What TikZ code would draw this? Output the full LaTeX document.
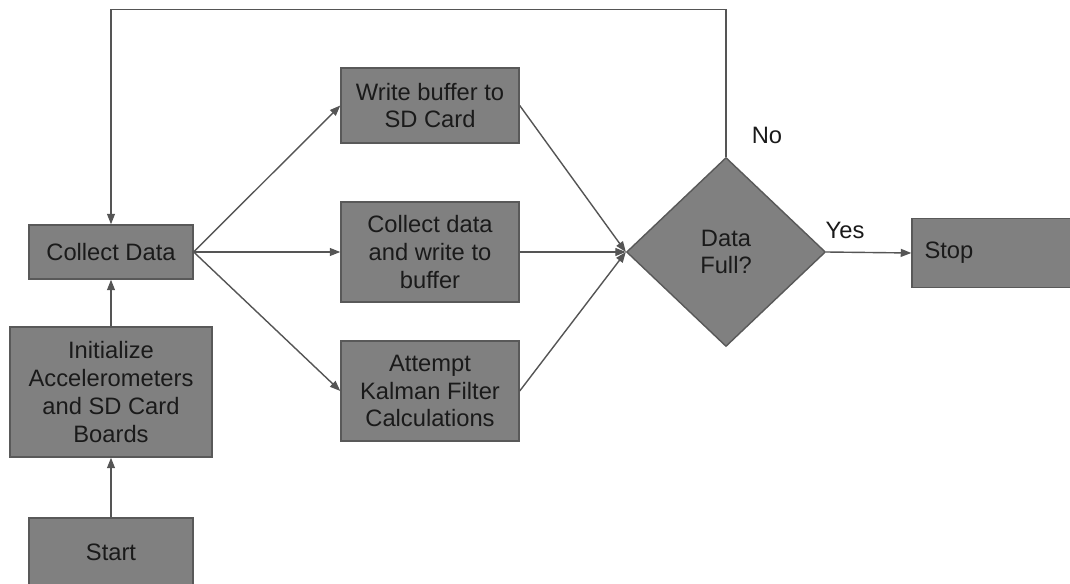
\documentclass[tikz,border=0pt]{standalone}
\usepackage{fontspec}
\setmainfont{Liberation Sans}
\usetikzlibrary{arrows.meta,shapes.geometric}
\definecolor{boxfill}{HTML}{808080}
\definecolor{boxline}{HTML}{595959}
\definecolor{flowline}{HTML}{555555}
\definecolor{txt}{HTML}{1A1A1A}
\tikzset{
  box/.style={draw=boxline,fill=boxfill,line width=0.8pt,align=center,inner sep=0pt,
    text=txt,font=\fontsize{13.5}{15.8}\selectfont},
  decide/.style={box,diamond,minimum width=3.98cm,minimum height=3.78cm},
  flow/.style={draw=flowline,line width=0.8pt,-{Triangle[length=6pt,width=4.5pt]}},
  lbl/.style={text=txt,font=\fontsize{13.5}{15.8}\selectfont}
}
\begin{document}
\begin{tikzpicture}
\useasboundingbox (0,0) rectangle (21.4,11.66);
\node[box,minimum width=3.28cm,minimum height=1.36cm] (start) at (2.22,0.62) {Start};
\node[box,minimum width=4.04cm,minimum height=2.6cm] (init) at (2.22,3.82)
  {Initialize\\Accelerometers\\and SD Card\\Boards};
\node[box,minimum width=3.28cm,minimum height=1.08cm] (coll) at (2.22,6.62) {Collect Data};
\node[box,minimum width=3.56cm,minimum height=1.5cm] (write) at (8.6,9.55) {Write buffer to\\SD Card};
\node[box,minimum width=3.56cm,minimum height=2cm] (colbuf) at (8.6,6.62) {Collect data\\and write to\\buffer};
\node[box,minimum width=3.56cm,minimum height=2cm] (kalman) at (8.6,3.84) {Attempt\\Kalman Filter\\Calculations};
\node[decide] (dia) at (14.52,6.62) {Data\\Full?};
\node[box,minimum width=3.6cm,minimum height=1.38cm,text width=3.1cm,align=left] (stop) at (20.04,6.6) {Stop};
\node[lbl] (yes) at (16.9,7.06) {Yes};
\node[lbl] (no) at (15.34,8.96) {No};
\draw[flow] (start) -- (init);
\draw[flow] (init) -- (coll);
\draw[flow] (coll.east) -- (write.west);
\draw[flow] (coll.east) -- (colbuf.west);
\draw[flow] (coll.east) -- (kalman.west);
\draw[flow] (write.east) -- (dia.west);
\draw[flow] (colbuf.east) -- (dia.west);
\draw[flow] (kalman.east) -- (dia.west);
\draw[flow] (dia.east) -- (stop.west);
\draw[flow] (dia.north) -- ++(0,2.94) -| (coll.north);
\end{tikzpicture}
\end{document}
